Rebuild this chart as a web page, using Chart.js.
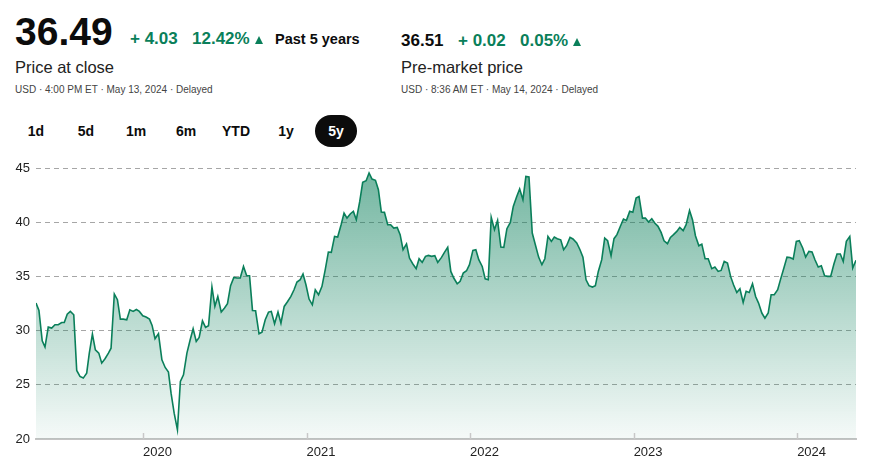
<!DOCTYPE html>
<html>
<head>
<meta charset="utf-8">
<script src="https://cdn.jsdelivr.net/npm/chart.js@4"></script>
<style>
  body { margin: 0; background: #fff; font-family: "Liberation Sans", Arial, sans-serif; color: #0c0c0c; }
  .t { position: absolute; white-space: nowrap; line-height: 1; }
  .big { font-size: 39px; font-weight: bold; }
  .val { font-size: 17px; font-weight: bold; }
  .up { color: #0a7f5a; }
  .lab { font-size: 16.5px; color: #222; }
  .sub { font-size: 10px; color: #444; }
  .tri { position: absolute; width: 0; height: 0; border-left: 4.5px solid transparent; border-right: 4.5px solid transparent; border-bottom: 8px solid #0a7f5a; }
  .btn { position: absolute; top: 115px; width: 42px; height: 32px; line-height: 32px; text-align: center; font-size: 14px; font-weight: bold; border-radius: 16px; }
  .btn.on { background: #0c0c0c; color: #fff; }
  #wrap { position: absolute; left: 0; top: 150px; width: 875px; height: 322px; }
</style>
</head>
<body>
<div class="t big" style="left:15px;top:12px">36.49</div>
<div class="t val up" style="left:130px;top:30px">+ 4.03</div>
<div class="t val up" style="left:192px;top:30px">12.42%</div>
<div class="tri" style="left:255px;top:36px"></div>
<div class="t" style="left:275px;top:32px;font-size:14.5px;font-weight:bold">Past 5 years</div>
<div class="t lab" style="left:15px;top:59px">Price at close</div>
<div class="t sub" style="left:15px;top:85px">USD · 4:00 PM ET · May 13, 2024 · Delayed</div>

<div class="t val" style="left:401px;top:32px">36.51</div>
<div class="t val up" style="left:458px;top:32px">+ 0.02</div>
<div class="t val up" style="left:520px;top:32px">0.05%</div>
<div class="tri" style="left:573px;top:38px"></div>
<div class="t lab" style="left:401px;top:59px">Pre-market price</div>
<div class="t sub" style="left:401px;top:85px">USD · 8:36 AM ET · May 14, 2024 · Delayed</div>

<div class="btn" style="left:15px">1d</div>
<div class="btn" style="left:65px">5d</div>
<div class="btn" style="left:115px">1m</div>
<div class="btn" style="left:165px">6m</div>
<div class="btn" style="left:215px">YTD</div>
<div class="btn" style="left:265px">1y</div>
<div class="btn on" style="left:315px">5y</div>

<div id="wrap"><canvas id="chart"></canvas></div>

<script>
// weekly closes, x in decimal years
var times = [
  2019.345, 2019.363, 2019.383, 2019.400, 2019.420, 2019.441, 2019.461, 2019.481, 2019.502, 2019.518,
  2019.536, 2019.555, 2019.576, 2019.594, 2019.614, 2019.634, 2019.655, 2019.671, 2019.690, 2019.708,
  2019.729, 2019.747, 2019.767, 2019.788, 2019.804, 2019.824, 2019.843, 2019.861, 2019.879, 2019.900,
  2019.919, 2019.939, 2019.959, 2019.977, 2019.998, 2020.018, 2020.039, 2020.055, 2020.073, 2020.094,
  2020.115, 2020.135, 2020.155, 2020.171, 2020.190, 2020.210, 2020.228, 2020.247, 2020.268, 2020.288,
  2020.306, 2020.325, 2020.343, 2020.363, 2020.382, 2020.400, 2020.421, 2020.439, 2020.457, 2020.478,
  2020.498, 2020.516, 2020.535, 2020.555, 2020.574, 2020.594, 2020.614, 2020.633, 2020.651, 2020.669,
  2020.688, 2020.709, 2020.727, 2020.747, 2020.767, 2020.784, 2020.804, 2020.825, 2020.843, 2020.863,
  2020.884, 2020.904, 2020.923, 2020.941, 2020.961, 2020.978, 2020.996, 2021.015, 2021.035, 2021.053,
  2021.073, 2021.094, 2021.114, 2021.133, 2021.151, 2021.171, 2021.190, 2021.211, 2021.229, 2021.247,
  2021.268, 2021.286, 2021.304, 2021.325, 2021.343, 2021.364, 2021.382, 2021.400, 2021.421, 2021.439,
  2021.457, 2021.476, 2021.496, 2021.514, 2021.533, 2021.554, 2021.572, 2021.590, 2021.611, 2021.629,
  2021.649, 2021.670, 2021.688, 2021.707, 2021.727, 2021.745, 2021.764, 2021.784, 2021.802, 2021.825,
  2021.843, 2021.863, 2021.882, 2021.900, 2021.921, 2021.939, 2021.958, 2021.978, 2021.996, 2022.017,
  2022.035, 2022.053, 2022.074, 2022.092, 2022.111, 2022.129, 2022.149, 2022.168, 2022.188, 2022.206,
  2022.225, 2022.246, 2022.264, 2022.284, 2022.303, 2022.323, 2022.341, 2022.360, 2022.380, 2022.399,
  2022.419, 2022.439, 2022.457, 2022.476, 2022.497, 2022.515, 2022.533, 2022.554, 2022.572, 2022.590,
  2022.611, 2022.629, 2022.652, 2022.672, 2022.690, 2022.709, 2022.727, 2022.748, 2022.766, 2022.784,
  2022.805, 2022.823, 2022.841, 2022.862, 2022.880, 2022.898, 2022.919, 2022.938, 2022.956, 2022.976,
  2022.995, 2023.015, 2023.033, 2023.054, 2023.072, 2023.091, 2023.111, 2023.129, 2023.149, 2023.168,
  2023.186, 2023.207, 2023.225, 2023.244, 2023.264, 2023.282, 2023.303, 2023.321, 2023.342, 2023.360,
  2023.378, 2023.399, 2023.417, 2023.437, 2023.456, 2023.478, 2023.497, 2023.517, 2023.535, 2023.554,
  2023.574, 2023.593, 2023.611, 2023.631, 2023.650, 2023.670, 2023.688, 2023.707, 2023.727, 2023.746,
  2023.764, 2023.784, 2023.803, 2023.823, 2023.841, 2023.860, 2023.881, 2023.899, 2023.919, 2023.938,
  2023.956, 2023.976, 2023.995, 2024.013, 2024.034, 2024.052, 2024.072, 2024.091, 2024.109, 2024.129,
  2024.148, 2024.168, 2024.187, 2024.205, 2024.225, 2024.244, 2024.264, 2024.282, 2024.301, 2024.322,
  2024.340, 2024.360
];
var prices = [
  32.54, 31.86, 29.06, 28.48, 30.32, 30.23, 30.54, 30.54, 30.75, 30.75,
  31.52, 31.77, 31.46, 26.32, 25.77, 25.62, 26.08, 27.92, 29.68, 28.23,
  27.92, 27.00, 27.40, 27.92, 28.38, 33.37, 32.85, 31.06, 31.06, 31.00,
  31.92, 31.77, 31.95, 31.77, 31.37, 31.25, 31.06, 30.48, 29.25, 29.71,
  27.31, 26.60, 26.17, 24.23, 22.38, 20.85, 25.31, 25.92, 27.92, 29.15,
  30.17, 29.00, 29.37, 30.90, 30.29, 30.45, 34.02, 32.23, 33.15, 31.71,
  32.08, 32.48, 34.14, 34.91, 34.85, 34.85, 35.92, 35.09, 35.06, 31.86,
  31.83, 29.71, 29.86, 31.00, 31.71, 31.77, 30.63, 31.71, 30.69, 32.23,
  32.69, 33.15, 33.77, 34.48, 34.70, 35.22, 34.23, 32.91, 32.38, 33.77,
  33.31, 34.08, 35.62, 37.25, 37.22, 38.69, 38.63, 39.77, 40.85, 40.38,
  40.78, 41.00, 40.23, 41.92, 43.68, 43.83, 44.54, 43.98, 43.86, 43.00,
  40.94, 40.91, 39.77, 39.77, 39.46, 39.52, 38.85, 37.46, 38.00, 36.69,
  36.17, 35.71, 36.63, 36.29, 36.85, 36.94, 36.85, 36.91, 36.29, 36.75,
  37.22, 37.68, 35.46, 34.85, 34.32, 34.54, 35.31, 35.52, 36.08, 37.40,
  37.46, 36.54, 35.92, 34.78, 34.69, 40.45, 39.31, 40.17, 37.71, 37.68,
  39.40, 39.98, 41.46, 42.32, 43.06, 42.08, 44.23, 44.17, 39.00, 37.92,
  36.78, 36.08, 36.63, 38.69, 38.23, 38.63, 38.48, 38.38, 37.46, 37.83,
  38.60, 38.45, 38.08, 37.46, 36.78, 34.69, 34.14, 34.02, 34.14, 35.46,
  36.54, 38.54, 38.29, 36.91, 38.48, 38.85, 39.62, 40.29, 40.17, 41.00,
  40.91, 42.23, 42.38, 40.38, 40.38, 40.02, 40.32, 39.92, 39.62, 39.06,
  38.29, 38.02, 38.60, 38.85, 39.15, 39.52, 39.22, 39.77, 41.09, 40.23,
  38.75, 37.83, 37.98, 36.63, 36.63, 35.71, 35.86, 35.46, 35.55, 36.38,
  36.23, 35.00, 34.23, 33.52, 33.86, 32.60, 33.62, 33.52, 34.32, 33.15,
  32.54, 31.62, 31.15, 31.62, 33.31, 33.31, 33.77, 34.75, 35.77, 36.78,
  36.75, 36.60, 38.23, 38.29, 37.62, 36.78, 37.31, 37.25, 36.54, 35.86,
  35.98, 35.06, 35.00, 35.00, 36.14, 37.06, 37.06, 36.38, 38.23, 38.69,
  35.77, 36.49
];
var yearTicks = [2020, 2021, 2022, 2023, 2024];
var priceTicks = [20, 25, 30, 35, 40, 45];

var green = '#0a7f5a';

var points = times.map(function (t, i) { return { x: t, y: prices[i] }; });

// small tick marks pointing up from the x axis
var innerTicks = {
  id: 'innerTicks',
  afterDatasetsDraw: function (chart) {
    var ctx = chart.ctx, xs = chart.scales.x, bottom = chart.chartArea.bottom;
    ctx.save();
    ctx.strokeStyle = '#c8c8c8';
    ctx.lineWidth = 1.5;
    xs.ticks.forEach(function (tk) {
      var px = Math.round(xs.getPixelForValue(tk.value)) + 0.5;
      ctx.beginPath();
      ctx.moveTo(px, bottom - 6);
      ctx.lineTo(px, bottom);
      ctx.stroke();
    });
    ctx.restore();
  }
};

var ctx = document.getElementById('chart').getContext('2d');
new Chart(ctx, {
  type: 'line',
  data: {
    datasets: [{
      data: points,
      borderColor: green,
      borderWidth: 1.6,
      pointRadius: 0,
      tension: 0,
      fill: 'start',
      backgroundColor: function (c) {
        var area = c.chart.chartArea;
        if (!area) return 'rgba(10,127,90,0.3)';
        var g = c.chart.ctx.createLinearGradient(0, area.top, 0, area.bottom);
        g.addColorStop(0, 'rgba(10,127,90,0.58)');
        g.addColorStop(1, 'rgba(10,127,90,0.04)');
        return g;
      }
    }]
  },
  options: {
    responsive: true,
    maintainAspectRatio: false,
    animation: false,
    layout: { padding: { top: 18, right: 19, left: 0, bottom: 0 } },
    plugins: { legend: { display: false }, tooltip: { enabled: false } },
    scales: {
      x: {
        type: 'linear',
        min: times[0],
        max: times[times.length - 1],
        afterBuildTicks: function (s) { s.ticks = yearTicks.map(function (v) { return { value: v }; }); },
        afterFit: function (s) { s.height = 33; },
        grid: { display: false, drawTicks: false },
        border: { display: true, color: '#c4c4c4', width: 2 },
        ticks: {
          align: 'start',
          padding: 6,
          maxRotation: 0,
          autoSkip: false,
          color: '#222',
          font: { family: 'Liberation Sans', size: 13 },
          callback: function (v) { return String(v); }
        }
      },
      y: {
        min: 20,
        max: 45,
        afterBuildTicks: function (s) { s.ticks = priceTicks.map(function (v) { return { value: v }; }); },
        afterFit: function (s) { s.width = 36; },
        grid: { color: '#a6a6a6', lineWidth: 1, drawTicks: false },
        border: { display: false, dash: [5, 4] },
        ticks: {
          padding: 6,
          color: '#222',
          font: { family: 'Liberation Sans', size: 13 }
        }
      }
    }
  },
  plugins: [innerTicks]
});
</script>
</body>
</html>
